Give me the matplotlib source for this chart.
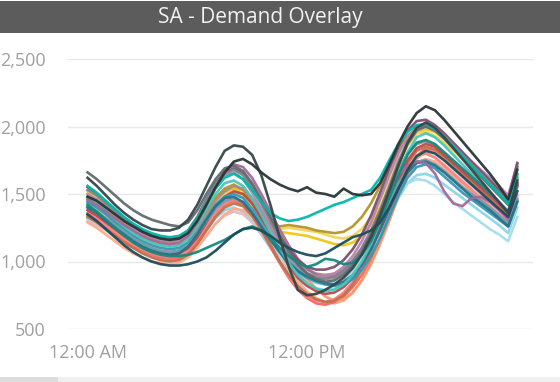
import matplotlib
matplotlib.use("Agg")
import numpy as np
from matplotlib import pyplot as plt
from matplotlib.patches import Rectangle

# half-hourly intervals, 0 = 12:00 AM
hours = np.arange(0, 24, 0.5)

# demand per day (MW)
day01 = [1480, 1450, 1400, 1350, 1300, 1260, 1220, 1190, 1170, 1160, 1170, 1210, 1300, 1420, 1550, 1660,
         1740, 1760, 1720, 1660, 1610, 1570, 1540, 1520, 1550, 1510, 1500, 1480, 1540, 1500, 1490, 1500,
         1580, 1720, 1870, 2000, 2100, 2150, 2120, 2050, 1970, 1890, 1810, 1730, 1650, 1560, 1460, 1680]
day02 = [1620, 1560, 1490, 1420, 1360, 1310, 1270, 1240, 1230, 1230, 1250, 1310, 1420, 1560, 1700, 1820,
         1860, 1850, 1790, 1640, 1420, 1180, 960, 790, 750, 760, 790, 830, 880, 950, 1050, 1180,
         1340, 1520, 1710, 1880, 1990, 2030, 1990, 1920, 1840, 1760, 1680, 1600, 1520, 1440, 1360, 1600]
day03 = [1560, 1510, 1450, 1390, 1330, 1280, 1240, 1210, 1190, 1180, 1190, 1230, 1320, 1430, 1540, 1620,
         1650, 1610, 1530, 1440, 1360, 1320, 1300, 1310, 1330, 1360, 1390, 1420, 1440, 1470, 1500, 1530,
         1620, 1750, 1870, 1960, 2010, 2020, 1980, 1920, 1850, 1780, 1710, 1640, 1570, 1500, 1430, 1640]
day04 = [1340, 1300, 1250, 1200, 1150, 1110, 1080, 1050, 1030, 1020, 1030, 1070, 1150, 1250, 1350, 1420,
         1450, 1420, 1340, 1230, 1110, 990, 880, 790, 730, 690, 680, 700, 740, 810, 900, 1020,
         1170, 1340, 1510, 1660, 1780, 1840, 1820, 1760, 1700, 1640, 1580, 1520, 1460, 1400, 1330, 1560]
day05 = [1520, 1480, 1420, 1360, 1310, 1260, 1220, 1190, 1170, 1160, 1170, 1210, 1290, 1390, 1480, 1530,
         1540, 1500, 1420, 1330, 1260, 1220, 1210, 1200, 1190, 1170, 1150, 1130, 1120, 1140, 1190, 1270,
         1400, 1560, 1720, 1860, 1950, 1980, 1960, 1910, 1850, 1790, 1730, 1670, 1610, 1540, 1460, 1620]
day06 = [1660, 1610, 1550, 1490, 1430, 1380, 1340, 1310, 1290, 1270, 1260, 1290, 1380, 1500, 1610, 1690,
         1710, 1670, 1580, 1460, 1330, 1200, 1080, 980, 910, 870, 850, 860, 900, 970, 1070, 1200,
         1360, 1540, 1720, 1870, 1970, 2000, 1970, 1910, 1840, 1770, 1700, 1630, 1560, 1490, 1420, 1700]
day07 = [1380, 1340, 1290, 1240, 1190, 1150, 1110, 1080, 1060, 1050, 1060, 1100, 1180, 1280, 1380, 1440,
         1460, 1430, 1350, 1250, 1140, 1040, 960, 900, 860, 840, 830, 840, 870, 930, 1010, 1110,
         1240, 1380, 1500, 1580, 1610, 1600, 1560, 1500, 1440, 1390, 1340, 1290, 1240, 1200, 1150, 1330]
day08 = [1400, 1360, 1310, 1260, 1210, 1170, 1130, 1100, 1080, 1070, 1080, 1120, 1200, 1310, 1420, 1510,
         1550, 1530, 1460, 1360, 1250, 1140, 1040, 950, 870, 800, 740, 710, 720, 770, 860, 980,
         1130, 1300, 1480, 1640, 1760, 1820, 1810, 1770, 1720, 1670, 1610, 1550, 1490, 1430, 1360, 1550]
day09 = [1460, 1420, 1370, 1320, 1270, 1230, 1190, 1160, 1140, 1130, 1140, 1190, 1290, 1420, 1560, 1670,
         1720, 1700, 1620, 1500, 1370, 1240, 1120, 1020, 950, 900, 880, 890, 930, 1000, 1100, 1230,
         1380, 1530, 1640, 1710, 1740, 1730, 1650, 1520, 1430, 1410, 1470, 1480, 1440, 1380, 1310, 1560]
day10 = [1440, 1400, 1350, 1290, 1240, 1190, 1150, 1120, 1100, 1090, 1100, 1140, 1220, 1320, 1420, 1480,
         1500, 1470, 1390, 1290, 1180, 1080, 990, 920, 880, 850, 830, 820, 830, 870, 940, 1040,
         1170, 1330, 1490, 1620, 1700, 1720, 1690, 1630, 1570, 1510, 1460, 1410, 1360, 1310, 1260, 1450]
day11 = [1300, 1270, 1230, 1180, 1140, 1100, 1070, 1040, 1020, 1010, 1020, 1050, 1110, 1190, 1280, 1340,
         1370, 1350, 1290, 1210, 1130, 1060, 1000, 960, 930, 910, 900, 910, 940, 1000, 1080, 1190,
         1330, 1480, 1620, 1730, 1790, 1800, 1770, 1720, 1660, 1600, 1550, 1500, 1440, 1390, 1330, 1520]
day12 = [1480, 1440, 1380, 1320, 1260, 1210, 1170, 1140, 1120, 1110, 1120, 1170, 1270, 1390, 1500, 1580,
         1600, 1560, 1470, 1350, 1220, 1100, 990, 900, 840, 800, 780, 790, 830, 900, 1000, 1130,
         1290, 1470, 1650, 1810, 1920, 1950, 1920, 1860, 1790, 1720, 1650, 1580, 1510, 1440, 1370, 1620]
day13 = [1350, 1300, 1240, 1180, 1120, 1070, 1030, 1000, 980, 970, 970, 980, 1000, 1030, 1080, 1140,
         1200, 1240, 1250, 1230, 1190, 1140, 1100, 1070, 1050, 1040, 1060, 1100, 1140, 1180, 1200, 1230,
         1290, 1400, 1540, 1680, 1780, 1820, 1800, 1750, 1690, 1630, 1570, 1510, 1450, 1390, 1330, 1520]
day14 = [1420, 1370, 1310, 1250, 1190, 1140, 1100, 1070, 1050, 1040, 1040, 1050, 1070, 1100, 1130, 1160,
         1200, 1240, 1260, 1230, 1170, 1100, 1040, 990, 960, 980, 1020, 1010, 980, 990, 1050, 1150,
         1300, 1470, 1640, 1790, 1880, 1900, 1870, 1810, 1750, 1690, 1630, 1570, 1510, 1440, 1370, 1570]
day15 = [1360, 1320, 1270, 1220, 1170, 1130, 1090, 1060, 1040, 1030, 1040, 1080, 1160, 1260, 1360, 1430,
         1460, 1440, 1370, 1260, 1130, 1000, 890, 800, 740, 710, 700, 720, 770, 850, 960, 1090,
         1240, 1410, 1570, 1700, 1780, 1800, 1770, 1710, 1650, 1590, 1530, 1470, 1410, 1350, 1290, 1490]
day16 = [1430, 1390, 1340, 1290, 1240, 1200, 1160, 1130, 1110, 1100, 1110, 1150, 1230, 1330, 1430, 1500,
         1520, 1480, 1400, 1310, 1250, 1240, 1250, 1240, 1230, 1220, 1200, 1180, 1170, 1190, 1240, 1330,
         1460, 1610, 1760, 1880, 1950, 1960, 1930, 1880, 1820, 1760, 1700, 1640, 1580, 1520, 1450, 1600]
day17 = [1530, 1490, 1430, 1370, 1310, 1260, 1220, 1190, 1170, 1160, 1170, 1220, 1320, 1450, 1570, 1650,
         1680, 1640, 1550, 1430, 1300, 1170, 1060, 970, 910, 880, 870, 880, 920, 990, 1090, 1220,
         1380, 1560, 1740, 1890, 1990, 2020, 1990, 1930, 1860, 1790, 1720, 1650, 1580, 1510, 1440, 1650]
day18 = [1320, 1290, 1250, 1200, 1150, 1110, 1080, 1050, 1030, 1020, 1030, 1070, 1140, 1230, 1320, 1380,
         1400, 1370, 1300, 1200, 1100, 1000, 920, 860, 820, 800, 790, 800, 830, 880, 950, 1050,
         1180, 1330, 1470, 1580, 1640, 1650, 1620, 1570, 1520, 1470, 1420, 1370, 1320, 1270, 1210, 1400]
day19 = [1290, 1250, 1200, 1150, 1100, 1060, 1030, 1000, 990, 980, 990, 1030, 1100, 1190, 1280, 1350,
         1390, 1380, 1330, 1250, 1150, 1040, 940, 850, 780, 730, 700, 690, 710, 770, 860, 990,
         1150, 1330, 1500, 1640, 1730, 1760, 1740, 1690, 1630, 1570, 1510, 1450, 1390, 1330, 1270, 1470]
day20 = [1500, 1460, 1410, 1350, 1300, 1250, 1210, 1180, 1160, 1150, 1160, 1210, 1310, 1440, 1560, 1640,
         1660, 1610, 1510, 1390, 1260, 1140, 1040, 960, 910, 890, 890, 910, 960, 1040, 1150, 1290,
         1460, 1640, 1800, 1920, 1990, 2000, 1970, 1920, 1860, 1800, 1740, 1680, 1620, 1560, 1490, 1720]
day21 = [1400, 1360, 1300, 1250, 1200, 1150, 1110, 1080, 1060, 1050, 1060, 1110, 1200, 1310, 1410, 1470,
         1480, 1440, 1360, 1260, 1160, 1070, 990, 930, 890, 860, 840, 830, 850, 900, 980, 1090,
         1230, 1390, 1540, 1660, 1730, 1740, 1710, 1660, 1600, 1540, 1480, 1430, 1380, 1320, 1260, 1440]
day22 = [1450, 1410, 1360, 1310, 1260, 1220, 1180, 1150, 1130, 1120, 1130, 1170, 1250, 1350, 1450, 1520,
         1560, 1540, 1470, 1370, 1260, 1150, 1060, 990, 940, 910, 900, 910, 950, 1010, 1100, 1220,
         1370, 1530, 1680, 1800, 1870, 1890, 1860, 1800, 1740, 1680, 1620, 1560, 1500, 1440, 1370, 1590]
day23 = [1380, 1340, 1290, 1240, 1190, 1150, 1110, 1080, 1060, 1050, 1060, 1100, 1180, 1290, 1400, 1480,
         1520, 1500, 1430, 1320, 1200, 1080, 970, 880, 820, 780, 760, 770, 810, 880, 980, 1110,
         1270, 1440, 1610, 1750, 1840, 1870, 1850, 1790, 1730, 1670, 1610, 1550, 1490, 1430, 1360, 1580]
day24 = [1470, 1430, 1380, 1330, 1280, 1240, 1200, 1170, 1150, 1140, 1150, 1190, 1270, 1370, 1470, 1540,
         1570, 1530, 1440, 1340, 1280, 1260, 1270, 1260, 1250, 1230, 1220, 1210, 1220, 1260, 1330, 1430,
         1560, 1700, 1830, 1930, 1990, 2000, 1970, 1910, 1850, 1790, 1720, 1650, 1590, 1520, 1440, 1620]
day25 = [1410, 1370, 1320, 1270, 1220, 1170, 1130, 1100, 1080, 1070, 1080, 1120, 1200, 1300, 1390, 1450,
         1470, 1440, 1370, 1280, 1180, 1090, 1010, 950, 910, 890, 880, 900, 940, 1000, 1080, 1180,
         1310, 1450, 1580, 1680, 1740, 1750, 1720, 1670, 1610, 1550, 1500, 1450, 1400, 1340, 1280, 1460]
day26 = [1330, 1290, 1240, 1190, 1140, 1100, 1060, 1030, 1010, 1000, 1010, 1050, 1130, 1230, 1330, 1400,
         1430, 1410, 1340, 1240, 1120, 1000, 900, 820, 760, 720, 700, 710, 750, 830, 940, 1080,
         1240, 1420, 1590, 1730, 1820, 1850, 1830, 1780, 1720, 1660, 1600, 1540, 1480, 1420, 1350, 1570]
day27 = [1550, 1500, 1440, 1380, 1320, 1270, 1230, 1200, 1180, 1170, 1180, 1230, 1330, 1460, 1580, 1660,
         1690, 1650, 1560, 1440, 1310, 1190, 1090, 1010, 960, 940, 940, 960, 1010, 1090, 1200, 1340,
         1510, 1690, 1850, 1970, 2040, 2050, 2010, 1950, 1880, 1810, 1740, 1670, 1600, 1530, 1460, 1730]

# power bi style colours, dark lines drawn last so they sit on top
series = [
    (day18, "#8AD4EB"), (day11, "#DFBFBF"), (day19, "#FDAB89"), (day07, "#A4DDEE"),
    (day04, "#FD625E"), (day15, "#FB8281"), (day08, "#FE9666"), (day26, "#BD7150"),
    (day05, "#F2C80F"), (day16, "#F4D25A"), (day24, "#B59525"), (day22, "#A78F8F"),
    (day23, "#BB4A4A"), (day10, "#3599B8"), (day25, "#6A9FB0"), (day21, "#28738A"),
    (day12, "#4AC5BB"), (day09, "#A66999"), (day20, "#B687AC"), (day27, "#7B4F71"),
    (day17, "#7F898A"), (day06, "#5F6B6D"), (day03, "#01B8AA"), (day14, "#168980"),
    (day13, "#1B4D5C"), (day02, "#374649"), (day01, "#293537"),
]

plt.rcParams["font.family"] = ["Open Sans", "DejaVu Sans"]

W, H = 560, 382
fig = plt.figure(figsize=(W / 100, H / 100), dpi=100)
fig.patch.set_facecolor("white")

# title bar
fig.add_artist(Rectangle((0, (H - 33) / H), 1, 32 / H, transform=fig.transFigure,
                         facecolor="#5c5c5c", edgecolor="none"))
fig.text(260 / W, (H - 17) / H, "SA - Demand Overlay", color="#f2f2f2",
         fontsize=15, ha="center", va="center")

# scrollbar strip at the bottom
fig.add_artist(Rectangle((0, 0), 1, 5 / H, transform=fig.transFigure,
                         facecolor="#efefef", edgecolor="none"))
fig.add_artist(Rectangle((0, 0), 58 / W, 5 / H, transform=fig.transFigure,
                         facecolor="#dcdcdc", edgecolor="none"))

ax = fig.add_axes([68 / W, (H - 329) / H, (533 - 68) / W, (329 - 59) / H])
for vals, col in series:
    ax.plot(hours, vals, color=col, lw=1.9, alpha=0.95, solid_joinstyle="round")

ax.set_xlim(-1.07, 24.36)
ax.set_ylim(500, 2500)
ax.set_yticks([500, 1000, 1500, 2000, 2500])
ax.set_yticklabels(["500", "1,000", "1,500", "2,000", "2,500"])
ax.set_xticks([0, 12])
ax.set_xticklabels(["12:00 AM", "12:00 PM"])
ax.grid(axis="y", color="#e8e8e8", lw=1)
ax.set_axisbelow(True)
for s in ax.spines.values():
    s.set_visible(False)
ax.tick_params(axis="y", length=0, pad=16, labelsize=13, labelcolor="#a0a0a0")
ax.tick_params(axis="x", length=0, pad=11, labelsize=13, labelcolor="#a0a0a0")

fig.savefig("out.png", dpi=100)
